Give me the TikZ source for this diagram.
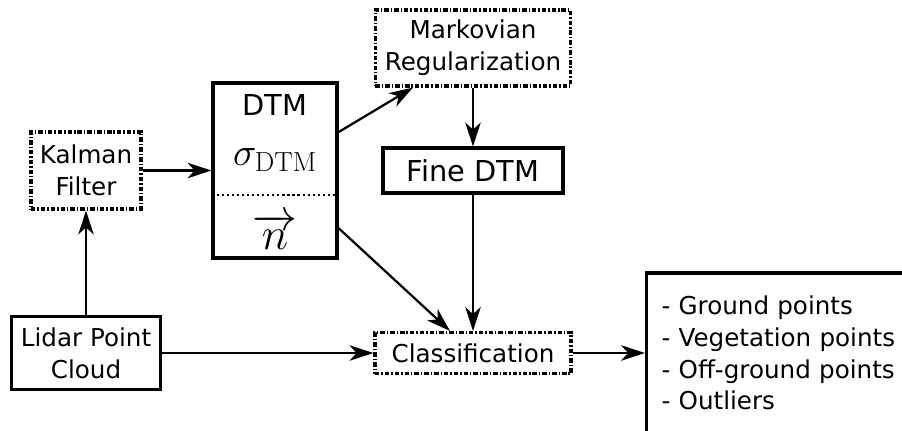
\RequirePackage{fix-cm}
\documentclass[tikz,border=0pt]{standalone}
\usepackage{amsmath}
\usepackage[no-math]{fontspec}
\setmainfont{DejaVu Sans}
\usetikzlibrary{arrows.meta}

\begin{document}
\begin{tikzpicture}[x=0.025cm, y=-0.025cm,
    font=\fontsize{17.5}{22.5}\selectfont,
    box/.style={draw, line width=2.2pt, inner sep=0pt, align=center},
    dashbox/.style={box, dash pattern=on 3.2pt off 1.4pt on 1pt off 1.4pt},
    arr/.style={line width=1.6pt, -{Stealth[length=17pt, width=11pt, inset=5pt]}},
    big/.style={font=\fontsize{20.5}{24}\selectfont},
    mathbig/.style={inner sep=0pt, font=\fontsize{28}{30}\selectfont}]
  \useasboundingbox (0,0) rectangle (902,430);
  \node[dashbox, minimum width=2.75cm, minimum height=1.925cm] (kalman) at (86,170.5) {Kalman\\Filter};
  \node[box, minimum width=3.725cm, minimum height=1.825cm] (lidar) at (86,353) {Lidar Point\\Cloud};
  \node[box, minimum width=3.1cm, minimum height=4.375cm] (dtm) at (275,170.5) {};
  \node[big] (dtmname) at (275,105) {DTM};
  \node[mathbig] (sigma) at (275,160) {$\sigma_{\mathrm{DTM}}$};
  \node[mathbig, font=\fontsize{32}{34}\selectfont] (normal) at (275,232) {$\overrightarrow{n}$};
  \draw[dotted, line width=1.6pt] (dtm.west |- 0,195) -- (dtm.east |- 0,195);
  \node[dashbox, minimum width=4.875cm, minimum height=1.9cm] (markov) at (473,48) {Markovian\\Regularization};
  \node[box, big, minimum width=4.5cm, minimum height=1.125cm] (fine) at (473,170.5) {Fine DTM};
  \node[dashbox, minimum width=4.9cm, minimum height=1.025cm] (class) at (473,353) {Classification};
  \node[box, align=left, anchor=west, inner xsep=0.375cm, text width=6.25cm, minimum height=4cm] (outputs) at (645,353)
    {- Ground points\\- Vegetation points\\- Off-ground points\\- Outliers};
  \draw[arr] (lidar) -- (kalman);
  \draw[arr] (kalman) -- (dtm);
  \draw[arr] ([yshift=0.96cm]dtm.east) -- ([xshift=-1.5cm]markov.south);
  \draw[arr] (markov) -- (fine);
  \draw[arr] (fine) -- (class);
  \draw[arr] ([yshift=-1.44cm]dtm.east) -- ([xshift=-0.575cm]class.north);
  \draw[arr] (lidar) -- (class);
  \draw[arr] (class) -- (outputs);
\end{tikzpicture}
\end{document}
